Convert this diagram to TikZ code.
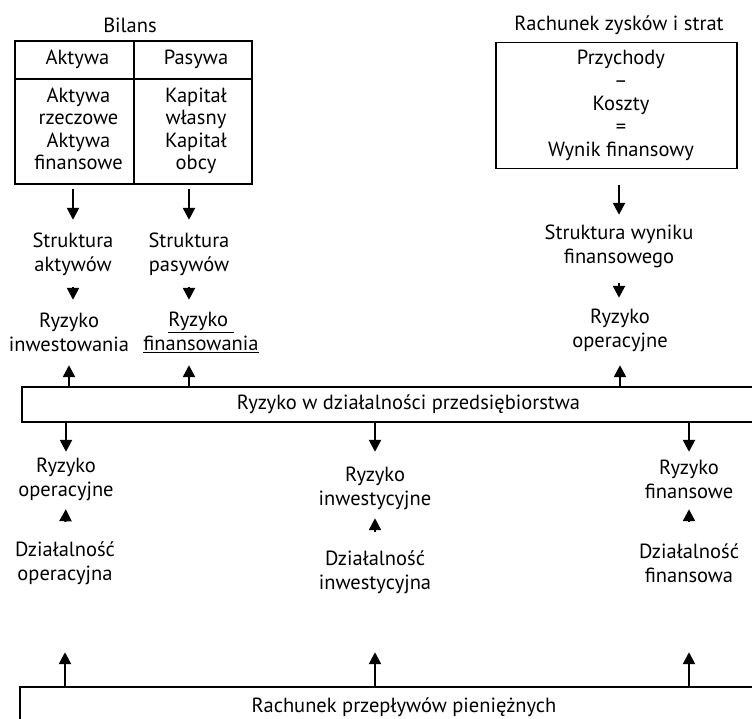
\documentclass[tikz,border=0pt]{standalone}
\usepackage{fontspec}
\setmainfont{PT Sans}
\usetikzlibrary{arrows.meta}
\newcommand\offc[2]{\begin{tabular}{@{\hspace{#1}}c@{}}#2\end{tabular}}
\begin{document}
\begin{tikzpicture}[x=1pt,y=-1pt,
  txt/.style={font=\fontsize{20.5}{24}\selectfont, align=center, inner sep=0pt, minimum height=46pt},
  cell/.style={draw, line width=1.3pt, inner sep=0pt, font=\fontsize{20.5}{22.5}\selectfont, align=center},
  bar/.style={draw, line width=1.3pt, inner sep=0pt, font=\fontsize{20.5}{24}\selectfont},
  arr/.style={line width=2.4pt, -{Triangle[width=12pt,length=12pt]}}]
\useasboundingbox (0,0) rectangle (752,718);
\clip (0,0) rectangle (752,718);
% balance sheet
\node[txt] (bil) at (130,25) {Bilans};
\node[cell, minimum width=119pt, minimum height=38pt] (aH) at (74.5,60) {\offc{6pt}{Aktywa}};
\node[cell, minimum width=118pt, minimum height=38pt] (pH) at (193,60) {\offc{6pt}{Pasywa}};
\node[cell, minimum width=119pt, minimum height=105pt] (aB) at (74.5,131.5) {\offc{8pt}{Aktywa\\rzeczowe\\Aktywa\\finansowe}};
\node[cell, minimum width=118pt, minimum height=105pt] (pB) at (193,131.5) {\offc{6pt}{Kapitał\\własny\\Kapitał\\obcy}};
% income statement
\node[txt] (rzis) at (619,25) {Rachunek zysków i strat};
\node[cell, font=\fontsize{20.5}{23}\selectfont, minimum width=241pt, minimum height=126pt] (rB) at (616.5,105.5) {\offc{9pt}{Przychody\\–\\Koszty\\=\\Wynik finansowy}};
% upper texts
\node[txt] (strA) at (73,254.5) {Struktura\\aktywów};
\node[txt] (strP) at (189,254.5) {Struktura\\pasywów};
\node[txt] (rInw) at (69,332) {Ryzyko\\inwestowania};
\node[txt] (rFin) at (201,332) {\underline{Ryzyko\ }\\\underline{finansowania}};
\node[txt] (strW) at (619,246) {Struktura wyniku\\finansowego};
\node[txt] (rOpA) at (620,330) {Ryzyko\\operacyjne};
% middle bar
\node[bar, minimum width=773pt, minimum height=35pt] (mid) at (408.5,404.5) {Ryzyko w działalności przedsiębiorstwa};
% lower texts
\node[txt] (rOpL) at (66,479) {Ryzyko\\operacyjne};
\node[txt] (rInL) at (375,488) {Ryzyko\\inwestycyjne};
\node[txt] (rFiL) at (689,479) {Ryzyko\\finansowe};
\node[txt] (dOp) at (65,563) {Działalność\\operacyjna};
\node[txt] (dIn) at (375,572) {Działalność\\inwestycyjna};
\node[txt] (dFi) at (689,563) {Działalność\\finansowa};
% bottom bar
\node[bar, minimum width=768pt, minimum height=40pt] (bot) at (404,707) {Rachunek przepływów pieniężnych};
% arrows top
\draw[arr, shorten <=4pt, shorten >=11.5pt] (strA.north |- aB.south) -- (strA.north);
\draw[arr, shorten <=4pt, shorten >=11.5pt] (strP.north |- pB.south) -- (strP.north);
\draw[arr, shorten <=16pt, shorten >=8pt] (strW.north |- rB.south) -- (strW.north);
\draw[arr, shorten <=9.5pt, shorten >=9pt] (strA.south) -- (strA.south |- rInw.north);
\draw[arr, shorten <=9.5pt, shorten >=9pt] (strP.south) -- (strP.south |- rFin.north);
\draw[arr, shorten <=14pt, shorten >=9pt] (strW.south) -- (strW.south |- rOpA.north);
% arrows from middle bar up
\draw[arr, shorten >=10pt] (rInw.south |- mid.north) -- (rInw.south);
\draw[arr, shorten >=10pt] (strP.south |- mid.north) -- (strP.south |- rFin.south);
\draw[arr, shorten >=12pt] (rOpA.south |- mid.north) -- (rOpA.south);
% arrows from middle bar down
\draw[arr, shorten >=4pt] (rOpL.north |- mid.south) -- (rOpL.north);
\draw[arr, shorten >=13pt] (rInL.north |- mid.south) -- (rInL.north);
\draw[arr, shorten >=4pt] (rFiL.north |- mid.south) -- (rFiL.north);
% small up arrows
\draw[arr, shorten <=18pt, shorten >=7pt] (dOp.north) -- (rOpL.south);
\draw[arr, shorten <=17pt, shorten >=7pt] (dIn.north) -- (rInL.south);
\draw[arr, shorten <=18pt, shorten >=7pt] (dFi.north) -- (rFiL.south);
% arrows from bottom bar
\draw[arr, shorten >=66pt] (dOp.south |- bot.north) -- (dOp.south);
\draw[arr, shorten >=57pt] (dIn.south |- bot.north) -- (dIn.south);
\draw[arr, shorten >=66pt] (dFi.south |- bot.north) -- (dFi.south);
\end{tikzpicture}
\end{document}
